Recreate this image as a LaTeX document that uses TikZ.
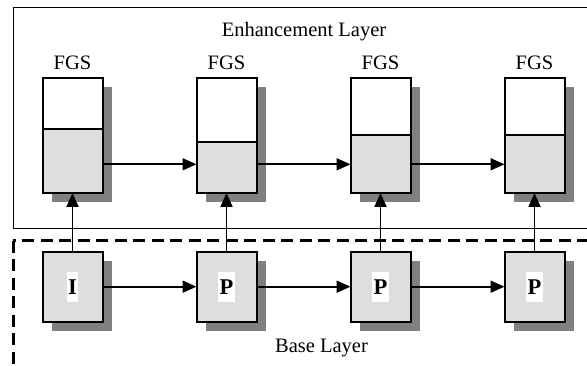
\documentclass[tikz,border=0pt]{standalone}
\usepackage{fontspec}
\setmainfont{Liberation Serif}
\usetikzlibrary{arrows.meta,shadows,calc}
\begin{document}
\begin{tikzpicture}[x=1pt,y=1pt,
  every node/.style={font=\fontsize{20.5}{24}\selectfont},
  boxshadow/.style={drop shadow={shadow xshift=9pt, shadow yshift=-9pt, fill=black!50, opacity=1}},
  framebox/.style={draw=black, line width=2pt, inner sep=0pt, outer sep=0pt, minimum width=60pt},
  fgsbox/.style={framebox, fill=white, minimum height=115.3pt, boxshadow},
  fgsfill/.style={framebox, fill=black!13, anchor=south},
  basebox/.style={framebox, fill=black!13, minimum height=70pt, boxshadow},
  frametag/.style={fill=white, inner xsep=1.5pt, inner ysep=0pt, minimum height=30pt,
                   font=\bfseries\fontsize{22.5}{26}\selectfont},
  link/.style={line width=1.8pt, -{Triangle[length=14pt,width=12pt]}},
]
\useasboundingbox (0,0) rectangle (587,-366);
\clip (0,0) rectangle (587,-366);

% layer frames
\draw[line width=1.1pt] (13.3,-7.3) rectangle (620,-228.3);
\draw[line width=3pt, dash pattern=on 12pt off 6.5pt] (13.3,-240.7) rectangle (640,-420);
\node (enh) at (304,-32) {Enhancement Layer};
\node (base) at (321.5,-348) {Base Layer};

% enhancement layer: FGS frames
\foreach \i/\x/\d in {1/72.5/63.7, 2/226.5/51.3, 3/380.5/58, 4/534.5/58} {
  \node[fgsbox] (f\i) at (\x,-135.35) {};
  \node[fgsfill, minimum height=\d pt] (g\i) at (f\i.south) {};
  \node (l\i) at (\x,-63) {FGS};
}

% base layer frames
\node[basebox] (b1) at (72.5,-286.7) {};
\node[basebox] (b2) at (226.5,-286.7) {};
\node[basebox] (b3) at (380.5,-286.7) {};
\node[basebox] (b4) at (534.5,-286.7) {};
\node[frametag] (t1) at (b1) {I};
\node[frametag] (t2) at (b2) {P};
\node[frametag] (t3) at (b3) {P};
\node[frametag] (t4) at (b4) {P};

% prediction links
\coordinate (erow) at (0,-164.3);
\foreach \a/\b in {1/2, 2/3, 3/4} {
  \draw[link] (f\a.east |- erow) -- (f\b.west |- erow);
  \draw[link] (b\a.east) -- (b\b.west);
}
\foreach \i in {1,...,4} {
  \draw[link] (b\i.north) -- (f\i.south);
}
\end{tikzpicture}
\end{document}
